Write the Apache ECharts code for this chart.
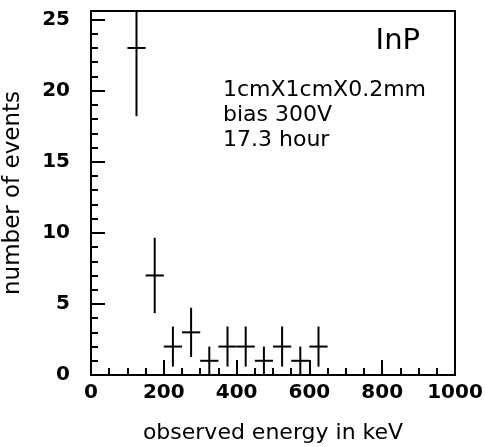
<!DOCTYPE html>
<html>
<head>
<meta charset="utf-8">
<script src="https://cdn.jsdelivr.net/npm/echarts@6/dist/echarts.min.js"></script>
<style>
  html, body { margin: 0; padding: 0; background: #fff; }
  #chart { width: 485px; height: 447px; }
</style>
</head>
<body>
<div id="chart"></div>
<script>
// bin centres (keV), counts and their errors
const energy = [125, 175, 225, 275, 325, 375, 425, 475, 525, 575, 625];
const counts = [23, 7, 2, 3, 1, 2, 2, 1, 2, 1, 2];
const errors = [4.8, 2.65, 1.41, 1.73, 1, 1.41, 1.41, 1, 1.41, 1, 1.41];
const binHalf = [25, 25, 25, 25, 25, 25, 25, 25, 25, 25, 25];
const notes = ['1cmX1cmX0.2mm', 'bias 300V', '17.3 hour'];

const data = energy.map((e, i) => [e, counts[i], errors[i], binHalf[i]]);

const chart = echarts.init(document.getElementById('chart'), null, { renderer: 'canvas' });

const labelFont = { fontFamily: 'DejaVu Sans', fontWeight: 'bold', fontSize: 20, color: '#000' };
const thinFont = 'DejaVu Sans';

function clampY(v, cs) {
  return Math.max(cs.y, Math.min(cs.y + cs.height, v));
}

const option = {
  animation: false,
  grid: {
    left: 91, top: 11, width: 364, height: 364,
    outerBoundsMode: 'none', containLabel: false,
    show: true, borderColor: '#000', borderWidth: 2, backgroundColor: 'transparent'
  },
  xAxis: [
    {
      type: 'value', min: 0, max: 1000, interval: 200,
      name: 'observed energy in keV', nameLocation: 'middle', nameGap: 47,
      nameTextStyle: { fontFamily: thinFont, fontSize: 22, color: '#000' },
      axisLine: { show: true, lineStyle: { color: '#000', width: 2 } },
      axisTick: { show: true, inside: true, length: 15, lineStyle: { color: '#000', width: 2 } },
      axisLabel: Object.assign({ margin: 8, formatter: v => String(v) }, labelFont),
      splitLine: { show: false }
    },
    {
      type: 'value', min: 0, max: 1000, interval: 50, position: 'bottom',
      axisLine: { show: false },
      axisTick: { show: true, inside: true, length: 7, lineStyle: { color: '#000', width: 2 } },
      axisLabel: { show: false },
      splitLine: { show: false }
    }
  ],
  yAxis: [
    {
      type: 'value', min: 0, max: 25.6, interval: 5,
      name: 'number of events', nameLocation: 'middle', nameGap: 66,
      nameTextStyle: { fontFamily: thinFont, fontSize: 23, color: '#000' },
      axisLine: { show: true, lineStyle: { color: '#000', width: 2 } },
      axisTick: { show: true, inside: true, length: 14, lineStyle: { color: '#000', width: 2 } },
      axisLabel: Object.assign({
        margin: 21,
        formatter: v => (v % 5 === 0 ? String(v) : '')
      }, labelFont),
      splitLine: { show: false }
    },
    {
      type: 'value', min: 0, max: 25.6, interval: 1, position: 'left',
      axisLine: { show: false },
      axisTick: { show: true, inside: true, length: 7, lineStyle: { color: '#000', width: 2 } },
      axisLabel: { show: false },
      splitLine: { show: false }
    }
  ],
  series: [
    {
      type: 'custom',
      xAxisIndex: 0,
      yAxisIndex: 0,
      clip: true,
      data: data,
      renderItem: function (params, api) {
        const cs = params.coordSys;
        const x = api.value(0), y = api.value(1), err = api.value(2), hw = api.value(3);
        const c = api.coord([x, y]);
        const lo = api.coord([x, y - err]);
        const hi = api.coord([x, y + err]);
        const left = api.coord([x - hw, y]);
        const right = api.coord([x + hw, y]);
        const style = { stroke: '#000', lineWidth: 2 };
        return {
          type: 'group',
          children: [
            { type: 'line', shape: { x1: c[0], y1: clampY(lo[1], cs), x2: c[0], y2: clampY(hi[1], cs) }, style: style },
            { type: 'line', shape: { x1: left[0], y1: c[1], x2: right[0], y2: c[1] }, style: style }
          ]
        };
      }
    }
  ],
  graphic: [
    {
      type: 'text', right: 65, top: 27,
      style: { text: 'InP', fontFamily: thinFont, fontSize: 29, fill: '#000' }
    },
    {
      type: 'text', left: 223, top: 78,
      style: {
        text: notes.join('\n'), fontFamily: thinFont, fontSize: 22,
        lineHeight: 25, fill: '#000'
      }
    }
  ]
};

chart.setOption(option);
</script>
</body>
</html>
